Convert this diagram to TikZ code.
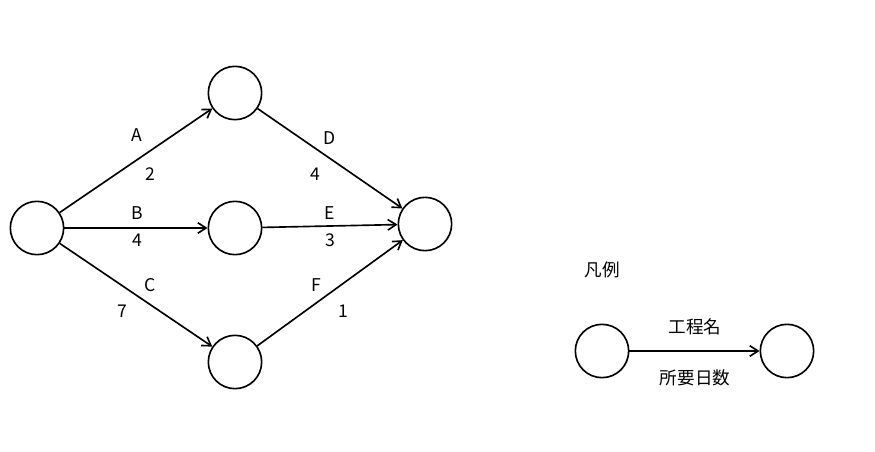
\documentclass[tikz,border=0pt]{standalone}
\usepackage{fontspec}
\setmainfont{Noto Sans CJK JP}
\usetikzlibrary{arrows.meta}
\begin{document}
\begin{tikzpicture}[x=0.03cm,y=-0.03cm,
  ev/.style={circle,draw,line width=1.4pt,minimum size=1.6cm,inner sep=0pt},
  act/.style={line width=1.4pt,-{Straight Barb[length=7pt,width=9pt,line width=1.4pt]}},
  lb/.style={font=\fontsize{15}{15}\selectfont,inner sep=0pt}]
\useasboundingbox (0,0) rectangle (875,451);
\node[ev] (s) at (37,228) {};
\node[ev] (a) at (235,93) {};
\node[ev] (b) at (235,228) {};
\node[ev] (c) at (235,362) {};
\node[ev] (t) at (425,224) {};
\draw[act] (s) -- (a);
\draw[act] (s) -- (b);
\draw[act] (s) -- (c);
\draw[act] (a) -- (t);
\draw[act] (b) -- (t);
\draw[act] (c) -- (t);
\node[lb] (lA) at (137,135) {A}; \node[lb] (n2) at (150,174) {2};
\node[lb] (lB) at (137,213) {B}; \node[lb] (n4) at (137,240) {4};
\node[lb] (lC) at (150,285) {C}; \node[lb] (n7) at (122,311) {7};
\node[lb] (lD) at (330,138) {D}; \node[lb] (n4b) at (315,174) {4};
\node[lb] (lE) at (330,213) {E}; \node[lb] (n3) at (330,240) {3};
\node[lb] (lF) at (316,285) {F}; \node[lb] (n1) at (343,311) {1};
\node[lb] (leg) at (602,270) {凡例};
\node[ev] (x) at (602,351) {};
\node[ev] (y) at (787,351) {};
\draw[act] (x) -- (y);
\node[lb] (k1) at (695,327) {工程名};
\node[lb] (k2) at (695,378) {所要日数};
\end{tikzpicture}
\end{document}
